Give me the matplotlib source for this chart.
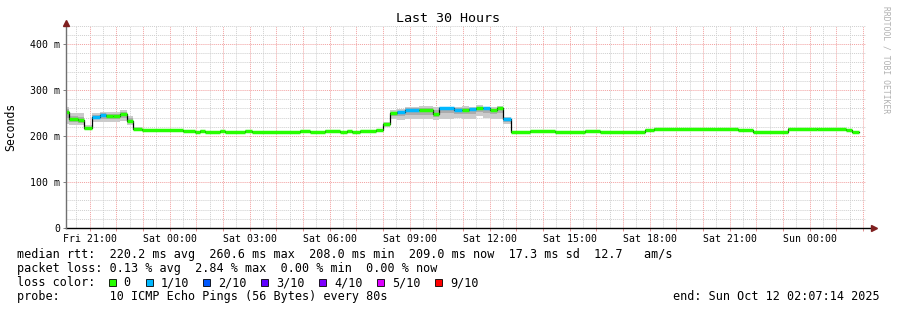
import matplotlib
matplotlib.use("Agg")
import matplotlib.pyplot as plt
import numpy as np
from matplotlib.lines import Line2D
from matplotlib.patches import Rectangle
from matplotlib.ticker import FixedLocator, FixedFormatter, MultipleLocator

W, H = 897, 310
MONO = "DejaVu Sans Mono"

############### data ################
# x = hours since Fri 00:00, plot covers the last 30 hours
t_start = 20.12   # Fri 20:07:14
t_end = 50.12     # Sun 02:07:14

tick_hours = [21, 24, 27, 30, 33, 36, 39, 42, 45, 48]
tick_labels = ["Fri 21:00", "Sat 00:00", "Sat 03:00", "Sat 06:00", "Sat 09:00",
               "Sat 12:00", "Sat 15:00", "Sat 18:00", "Sat 21:00", "Sun 00:00"]

y_ticks = [0, 100, 200, 300, 400]
y_labels = ["0", "100 m", "200 m", "300 m", "400 m"]

# step edges (hours) and median rtt (ms) per step
step_edges = [20.12, 20.23, 20.57, 20.80, 21.07, 21.38, 21.61, 21.87, 22.13, 22.39,
              22.63, 22.95, 24.51, 24.95, 25.13, 25.32, 25.88, 26.07, 26.82, 27.08,
              28.88, 29.26, 29.82, 30.38, 30.65, 30.83, 31.13, 31.73, 31.98, 32.26,
              32.53, 32.82, 33.36, 33.86, 34.11, 34.66, 34.95, 35.22, 35.48, 35.76,
              36.01, 36.26, 36.51, 36.78, 37.51, 38.45, 39.57, 40.14, 41.83, 42.14,
              45.32, 45.88, 47.20, 48.26, 49.35, 49.60, 49.86]
median = [253, 237, 234, 217, 242, 245, 243, 243, 247, 233,
          216, 213, 210, 209, 211, 209, 210, 209, 210, 209,
          210, 209, 211, 209, 210, 209, 210, 213, 226, 250,
          252, 257, 257, 248, 260, 257, 256, 258, 261, 261,
          256, 260, 237, 208, 210, 208, 210, 209, 213, 216,
          212, 209, 216, 215, 212, 209]
# loss index per step: 0 -> 0 loss, 1 -> 1/10
loss = [0, 0, 0, 0, 1, 1, 0, 0, 0, 0,
        0, 0, 0, 0, 0, 0, 0, 0, 0, 0,
        0, 0, 0, 0, 0, 0, 0, 0, 0, 0,
        1, 1, 0, 0, 1, 1, 0, 1, 0, 1,
        0, 0, 1, 0, 0, 0, 0, 0, 0, 0,
        0, 0, 0, 0, 0, 0]
# smoke (spread of the pings) per step, ms
smoke_lo = [226, 225, 224, 212, 230, 231, 230, 230, 233, 224,
            212, 211, 208, 207, 209, 207, 208, 207, 208, 207,
            208, 207, 209, 207, 208, 207, 208, 211, 220, 236,
            234, 236, 236, 234, 238, 239, 238, 236, 243, 240,
            238, 238, 226, 206, 208, 206, 208, 207, 211, 214,
            210, 207, 214, 213, 210, 207]
smoke_hi = [263, 250, 249, 223, 251, 253, 253, 253, 256, 244,
            220, 215, 212, 211, 213, 211, 212, 211, 212, 211,
            212, 211, 213, 211, 212, 211, 212, 215, 231, 256,
            258, 263, 266, 264, 264, 263, 266, 264, 267, 264,
            263, 266, 242, 210, 212, 210, 212, 211, 215, 218,
            214, 211, 218, 217, 214, 211]

loss_colors = ["#26ff00", "#00b8ff", "#0059ff", "#5e00ff", "#7e00ff", "#dd00ff", "#ff0000"]
loss_names = ["0", "1/10", "2/10", "3/10", "4/10", "5/10", "9/10"]


def fx(x):
    return x / W


def fy(y):
    return 1 - y / H


fig = plt.figure(figsize=(W / 100, H / 100), dpi=100, facecolor="white")
ax = fig.add_axes([fx(66.3), fy(228), 800 / W, (228 - 25.6) / H])
ax.set_xlim(t_start, t_end)
ax.set_ylim(0, 440)
for s in ax.spines.values():
    s.set_visible(False)

# grid
ax.xaxis.set_major_locator(FixedLocator(list(range(21, 51))))
ax.xaxis.set_major_formatter(FixedFormatter(
    [tick_labels[tick_hours.index(h)] if h in tick_hours else "" for h in range(21, 51)]))
ax.xaxis.set_minor_locator(MultipleLocator(0.5))
ax.yaxis.set_major_locator(FixedLocator(y_ticks))
ax.yaxis.set_major_formatter(FixedFormatter(y_labels))
ax.yaxis.set_minor_locator(MultipleLocator(20))
ax.grid(which="minor", color="#cfcfcf", linestyle=(0, (1, 1)), linewidth=0.7)
ax.grid(which="major", color="#f2a0a0", linestyle=(0, (1, 1)), linewidth=0.7)
ax.set_axisbelow(True)
ax.tick_params(which="both", length=2, width=0.7, color="#e09090", pad=2,
               labelsize=7.1, labelfontfamily=MONO)
ax.tick_params(which="minor", length=0)
ax.tick_params(axis="y", pad=2.5, color="#808080")

# smoke
e = np.array(step_edges)
lo = np.append(smoke_lo, smoke_lo[-1])
hi = np.append(smoke_hi, smoke_hi[-1])
md = np.append(median, median[-1])
ax.fill_between(e, lo, hi, step="post", color="#cbcbcb", lw=0)
ax.fill_between(e, (lo + md) / 2, (hi + md) / 2, step="post", color="#acacac", lw=0)

# median line coloured by loss
ax.step(e, md, where="post", color="black", lw=0.9)
ax.hlines(median, e[:-1], e[1:], colors=[loss_colors[l] for l in loss], lw=2.5)

# axes with arrows
ax.add_line(Line2D([0, 1.008], [0, 0], transform=ax.transAxes, color="black",
                   lw=1, clip_on=False))
ax.add_line(Line2D([0, 0], [0, 1.01], transform=ax.transAxes, color="#707070",
                   lw=1, clip_on=False))
ax.plot([1.009], [0], marker=">", ms=4, color="#7f1f1f", transform=ax.transAxes, clip_on=False)
ax.plot([0], [1.012], marker="^", ms=4, color="#7f1f1f", transform=ax.transAxes, clip_on=False)

fig.text(fx(11), fy(127), "Seconds", rotation=90, ha="center", va="center",
         family=MONO, fontsize=8.3)
fig.text(fx(448), fy(19), "Last 30 Hours", ha="center", va="center",
         family=MONO, fontsize=9.6)
fig.text(fx(886), fy(60), "RRDTOOL / TOBI OETIKER", rotation=-90, ha="center",
         va="center", family=MONO, fontsize=5.8, color="#b0b0b0")

# legend block
lx = 16.5
fs = 8.45
fig.text(fx(lx), fy(254.3), "median rtt:  220.2 ms avg  260.6 ms max  208.0 ms min  "
         "209.0 ms now  17.3 ms sd  12.7   am/s", va="center", family=MONO, fontsize=fs)
fig.text(fx(lx), fy(268.3), "packet loss: 0.13 % avg  2.84 % max  0.00 % min  0.00 % now",
         va="center", family=MONO, fontsize=fs)
fig.text(fx(lx), fy(282.7), "loss color:", va="center", family=MONO, fontsize=fs)
fig.text(fx(lx), fy(296.7), "probe:       10 ICMP Echo Pings (56 Bytes) every 80s",
         va="center", family=MONO, fontsize=fs)
fig.text(fx(880), fy(296.7), "end: Sun Oct 12 02:07:14 2025", ha="right",
         va="center", family=MONO, fontsize=fs)

box_x = [108.7, 146, 203.3, 261.3, 319.3, 377.3, 435.3]
for bx, c, name in zip(box_x, loss_colors, loss_names):
    fig.patches.append(Rectangle((fx(bx), fy(286.2)), 7 / W, 7 / H, transform=fig.transFigure,
                                 facecolor=c, edgecolor="black", lw=0.6))
    fig.text(fx(bx + 14.6), fy(282.7), name, va="center", family=MONO, fontsize=fs)

fig.savefig("out.png", dpi=100, facecolor="white")
